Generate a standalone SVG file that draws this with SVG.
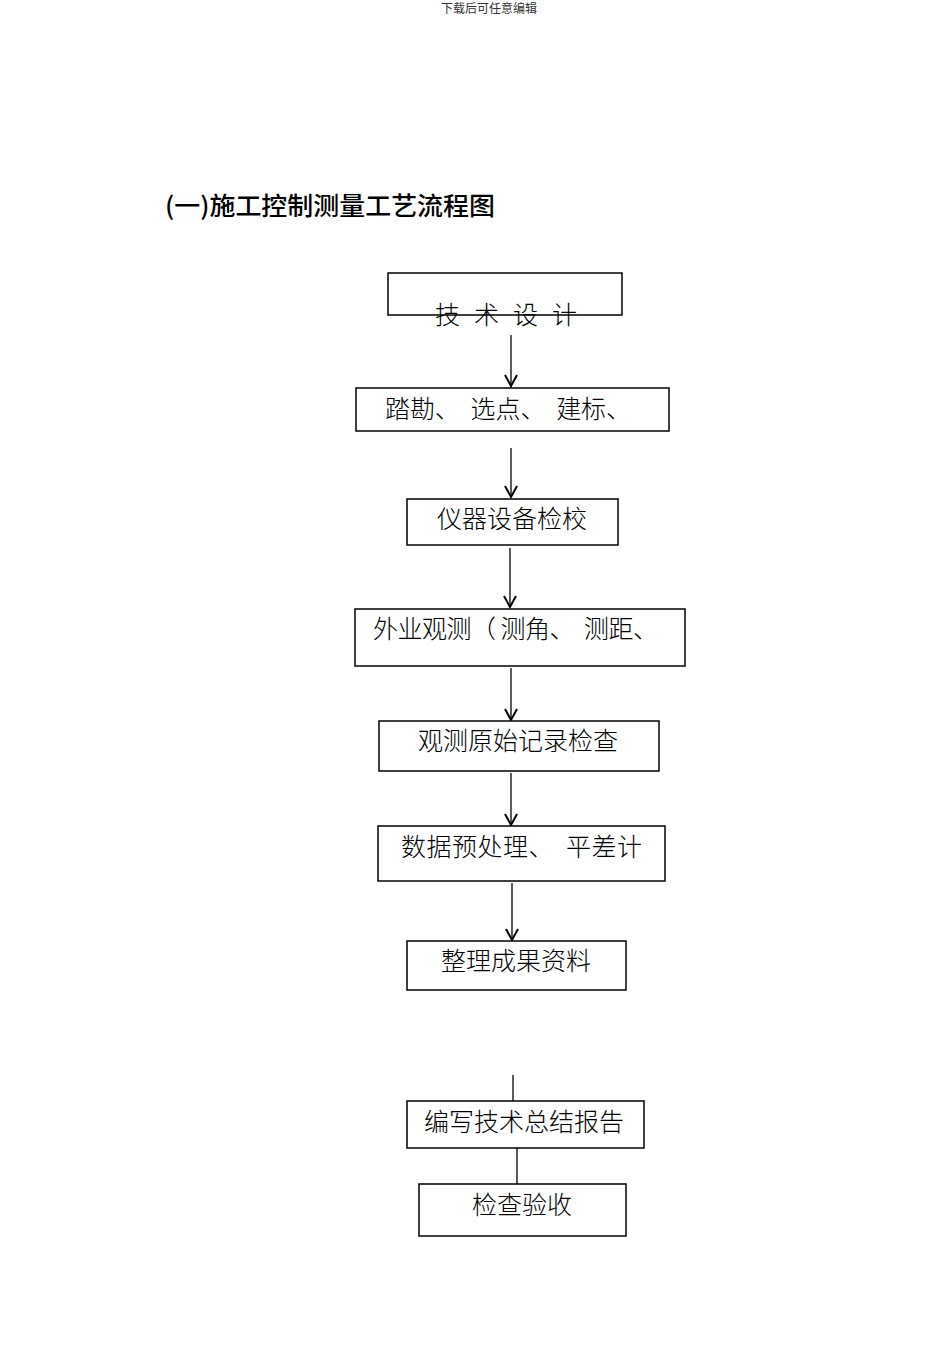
<svg xmlns="http://www.w3.org/2000/svg" width="950" height="1350" viewBox="0 0 950 1350">
<defs>
<style>
.b{fill:#fff;stroke:#000;stroke-width:1.5}
.t{font-family:"Noto Sans CJK SC",sans-serif;font-size:25px;font-weight:300;fill:#000}
.c{stroke:#000;stroke-width:1.3;fill:none}
.h{fill:none;stroke:#000;stroke-width:2}
</style>
</defs>
<rect width="950" height="1350" fill="#fff"/>
<text x="489" y="13" text-anchor="middle" font-family="Noto Sans CJK SC,serif" font-size="12" fill="#333">下载后可任意编辑</text>
<text x="165" y="215" font-family="Noto Sans CJK SC,sans-serif" font-size="25" font-weight="500" textLength="330" lengthAdjust="spacingAndGlyphs">(一)施工控制测量工艺流程图</text>
<g id="connectors">
<line class="c" x1="511" y1="335" x2="511" y2="387"/><path class="h" d="M505,375 L511,386 L517,375"/>
<line class="c" x1="511" y1="448" x2="511" y2="497"/><path class="h" d="M505,486 L511,497 L517,486"/>
<line class="c" x1="510" y1="548" x2="510" y2="606"/><path class="h" d="M504,596 L510,607 L516,596"/>
<line class="c" x1="511" y1="668" x2="511" y2="719"/><path class="h" d="M505,709 L511,720 L517,709"/>
<line class="c" x1="511" y1="773" x2="511" y2="824"/><path class="h" d="M505,814 L511,825 L517,814"/>
<line class="c" x1="512" y1="883" x2="512" y2="939"/><path class="h" d="M506,929 L512,940 L518,929"/>
<line class="c" x1="513" y1="1075" x2="513" y2="1101"/>
<line class="c" x1="517" y1="1148" x2="517" y2="1184"/>
</g>
<g id="n1"><rect class="b" x="388" y="273" width="234" height="42"/><text class="t" x="435" y="324" textLength="142" lengthAdjust="spacing">技 术 设 计</text></g>
<g id="n2"><rect class="b" x="356" y="388" width="313" height="43"/><text class="t" x="385" y="418" xml:space="preserve" textLength="246" lengthAdjust="spacing">踏勘、  选点、  建标、</text></g>
<g id="n3"><rect class="b" x="407" y="499" width="211" height="46"/><text class="t" x="437" y="528">仪器设备检校</text></g>
<g id="n4"><rect class="b" x="355" y="609" width="330" height="57"/><text class="t" x="373" y="638" xml:space="preserve" textLength="285" lengthAdjust="spacing">外业观测（ 测角、  测距、</text></g>
<g id="n5"><rect class="b" x="379" y="721" width="280" height="50"/><text class="t" x="418" y="750">观测原始记录检查</text></g>
<g id="n6"><rect class="b" x="378" y="826" width="287" height="55"/><text class="t" x="401" y="856" xml:space="preserve" textLength="241" lengthAdjust="spacing">数据预处理、  平差计</text></g>
<g id="n7"><rect class="b" x="407" y="941" width="219" height="49"/><text class="t" x="441" y="970">整理成果资料</text></g>
<g id="n8"><rect class="b" x="407" y="1101" width="237" height="47"/><text class="t" x="424" y="1131">编写技术总结报告</text></g>
<g id="n9"><rect class="b" x="419" y="1184" width="207" height="52"/><text class="t" x="472" y="1214">检查验收</text></g>
</svg>
